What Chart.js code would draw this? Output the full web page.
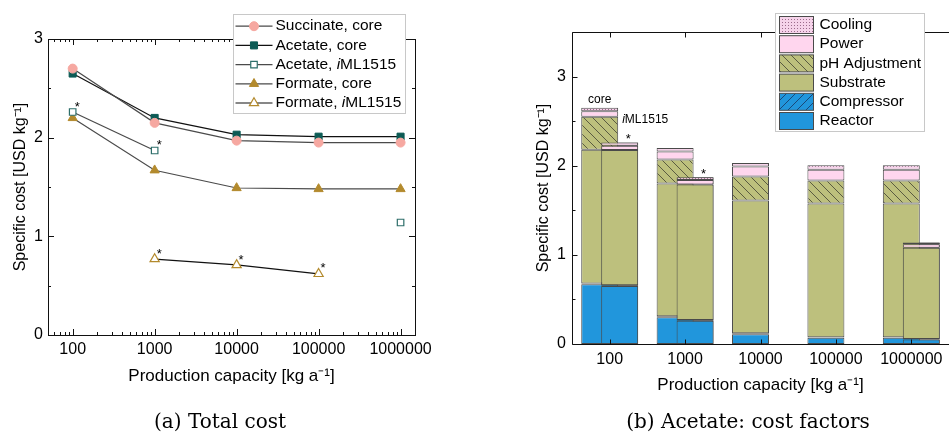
<!DOCTYPE html>
<html lang="en">
<head>
  <meta charset="UTF-8">
  <title>Specific cost</title>
  <script src="https://cdn.jsdelivr.net/npm/chart.js"></script>
  <style>
    body { margin: 0; background: #fff; width: 949px; height: 433px; overflow: hidden; position: relative; }
    #chartLeft { position: absolute; left: 0; top: 0; }
    #chartRight { position: absolute; left: 475px; top: 0; }
    .caption { position: absolute; top: 408px; font-family: "DejaVu Serif", serif; font-size: 20px; line-height: 26px; text-align: center; color: #000; }
  </style>
</head>

<body>
  <canvas id="chartLeft" width="475" height="433"></canvas>
  <canvas id="chartRight" width="474" height="433"></canvas>
  <div class="caption" style="left:0; width:440px;">(a) Total cost</div>
  <div class="caption" style="left:548px; width:400px;">(b) Acetate: cost factors</div>

  <script>
    // capacities [kg a-1]
    const capacities = [100, 1000, 10000, 100000, 1000000];
    const capacityLabels = ['100', '1000', '10000', '100000', '1000000'];

    // (a) total cost [USD kg-1]
    const succinateCore = [2.70, 2.15, 1.97, 1.95, 1.95];
    const acetateCore = [2.65, 2.20, 2.03, 2.01, 2.01];
    const acetateIml = [2.26, 1.87, null, null, 1.14];
    const formateCore = [2.20, 1.67, 1.49, 1.48, 1.48];
    const formateIml = [null, 0.77, 0.71, 0.62, null];
    const starAcetateIml = [true, true, false, false, false];
    const starFormateIml = [false, true, true, true, false];
    const yTicksLeft = [0, 1, 2, 3];

    // (b) acetate cost factors, core model
    const reactorCore = [0.67, 0.30, 0.11, 0.07, 0.07];
    const compressorCore = [0.01, 0.01, 0.01, 0.005, 0.005];
    const substrateCore = [1.50, 1.49, 1.49, 1.50, 1.50];
    const phCore = [0.37, 0.27, 0.27, 0.26, 0.26];
    const powerCore = [0.06, 0.09, 0.11, 0.12, 0.12];
    const coolingCore = [0.04, 0.04, 0.04, 0.05, 0.05];
    // iML1515 model
    const reactorIml = [0.65, 0.26, null, null, 0.05];
    const compressorIml = [0.01, 0.01, null, null, 0.005];
    const substrateIml = [1.515, 1.52, null, null, 1.025];
    const phIml = [0, 0, null, null, 0];
    const powerIml = [0.05, 0.05, null, null, 0.04];
    const coolingIml = [0.035, 0.03, null, null, 0.02];
    const starIml = [true, true, false, false, false];
    const yTicksRight = [0, 1, 2, 3];

    const SANS = '"Liberation Sans", Arial, sans-serif';

    function richText(ctx, text, x, y, size) {
      // the "i" of iML1515 is italic
      const normal = size + 'px ' + SANS;
      const k = text.indexOf('iML');
      const parts = k < 0 ? [[text, normal]] : [[text.slice(0, k), normal], ['i', 'italic ' + normal], [text.slice(k + 1), normal]];
      for (const [s, f] of parts) {
        ctx.font = f;
        ctx.fillText(s, x, y);
        x += ctx.measureText(s).width;
      }
    }

    function makePattern(bg, fg, kind) {
      const c = document.createElement('canvas');
      const s = kind === 'dots' ? 3 : 9;
      c.width = s; c.height = s;
      const g = c.getContext('2d');
      g.fillStyle = bg; g.fillRect(0, 0, s, s);
      g.fillStyle = fg; g.strokeStyle = fg; g.lineWidth = 0.9;
      if (kind === 'dots') {
        g.fillRect(1, 1, 1, 1);
      } else {
        g.beginPath();
        for (const k of [-s, 0, s]) {
          if (kind === 'back') { g.moveTo(k, 0); g.lineTo(k + s, s); }
          else { g.moveTo(k, s); g.lineTo(k + s, 0); }
        }
        g.stroke();
      }
      return g.createPattern(c, 'repeat');
    }

    // ---------- (a) line chart ----------
    const toXY = arr => capacities.map((c, i) => ({ x: c, y: arr[i] }));

    const leftDecor = {
      id: 'leftDecor',
      afterDraw(chart) {
        const { ctx, chartArea: a, scales: { x, y } } = chart;
        ctx.save();
        ctx.strokeStyle = '#111';
        ctx.lineWidth = 1;
        ctx.strokeRect(Math.round(a.left) + 0.5, Math.round(a.top) + 0.5, Math.round(a.right - a.left), Math.round(a.bottom - a.top));
        ctx.beginPath();
        for (let e = 1; e <= 6; e++) {
          for (let m = 1; m <= 9; m++) {
            const v = m * Math.pow(10, e);
            if (v < x.min || v > x.max) continue;
            const px = Math.round(x.getPixelForValue(v)) + 0.5;
            const len = m === 1 ? 6 : 3;
            ctx.moveTo(px, a.bottom); ctx.lineTo(px, a.bottom - len);
            ctx.moveTo(px, a.top); ctx.lineTo(px, a.top + len);
          }
        }
        for (let v = 0; v <= 3; v += 0.5) {
          const py = Math.round(y.getPixelForValue(v)) + 0.5;
          const len = v % 1 === 0 ? 6 : 3;
          ctx.moveTo(a.left, py); ctx.lineTo(a.left + len, py);
          ctx.moveTo(a.right, py); ctx.lineTo(a.right - len, py);
        }
        ctx.stroke();

        // asterisks
        ctx.fillStyle = '#000';
        ctx.font = '13px ' + SANS;
        ctx.textAlign = 'left';
        ctx.textBaseline = 'middle';
        [[2, starAcetateIml], [4, starFormateIml]].forEach(([di, flags]) => {
          const meta = chart.getDatasetMeta(di);
          flags.forEach((f, i) => {
            if (!f) return;
            const p = meta.data[i];
            ctx.fillText('*', p.x + 2, p.y - 5);
          });
        });

        // legend
        const bx = Math.round(a.left + 185) + 0.5, by = Math.round(a.top - 25) + 0.5, bw = 172, bh = 99, row = 19.2;
        ctx.fillStyle = '#fff';
        ctx.fillRect(bx, by, bw, bh);
        ctx.strokeStyle = '#c8c8c8';
        ctx.strokeRect(bx, by, bw, bh);
        chart.data.datasets.forEach((ds, i) => {
          const cy = by + 11.7 + i * row;
          ctx.strokeStyle = ds.borderColor;
          ctx.lineWidth = ds.borderWidth;
          ctx.beginPath(); ctx.moveTo(bx + 2, cy); ctx.lineTo(bx + 39, cy); ctx.stroke();
          ctx.fillStyle = ds.pointBackgroundColor;
          ctx.strokeStyle = ds.pointBorderColor;
          ctx.lineWidth = ds.pointBorderWidth;
          Chart.helpers.drawPoint(ctx, { pointStyle: ds.pointStyle, radius: ds.pointRadius, borderWidth: ds.pointBorderWidth, rotation: 0 }, bx + 20.5, cy);
          ctx.fillStyle = '#000';
          ctx.textBaseline = 'middle';
          richText(ctx, ds.label, bx + 42, cy, 15.5);
        });
        ctx.restore();
      }
    };

    new Chart(document.getElementById('chartLeft'), {
      type: 'line',
      data: {
        datasets: [
          { label: 'Succinate, core', data: toXY(succinateCore), borderColor: '#4a4a4a', borderWidth: 1.2,
            pointStyle: 'circle', pointRadius: 4.5, pointBackgroundColor: '#f6a8a1', pointBorderColor: '#f6a8a1', pointBorderWidth: 1 },
          { label: 'Acetate, core', data: toXY(acetateCore), borderColor: '#111', borderWidth: 1.2,
            pointStyle: 'rect', pointRadius: 5, pointBackgroundColor: '#0c5b55', pointBorderColor: '#0c5b55', pointBorderWidth: 1 },
          { label: 'Acetate, iML1515', data: toXY(acetateIml), borderColor: '#4a4a4a', borderWidth: 1.2,
            pointStyle: 'rect', pointRadius: 4.6, pointBackgroundColor: '#fff', pointBorderColor: '#2d6e6a', pointBorderWidth: 1.2 },
          { label: 'Formate, core', data: toXY(formateCore), borderColor: '#4a4a4a', borderWidth: 1.2,
            pointStyle: 'triangle', pointRadius: 5.3, pointBackgroundColor: '#b38a2d', pointBorderColor: '#b38a2d', pointBorderWidth: 1 },
          { label: 'Formate, iML1515', data: toXY(formateIml), borderColor: '#111', borderWidth: 1.2,
            pointStyle: 'triangle', pointRadius: 5.3, pointBackgroundColor: '#fff', pointBorderColor: '#b38a2d', pointBorderWidth: 1.2 }
        ]
      },
      options: {
        responsive: false,
        animation: false,
        spanGaps: false,
        layout: { padding: { top: 39, right: 60, left: 0, bottom: 0 } },
        elements: { line: { tension: 0, fill: false } },
        scales: {
          x: {
            type: 'logarithmic', min: 50, max: 1.5e6,
            grid: { display: false, drawTicks: false }, border: { display: false },
            afterBuildTicks: s => { s.ticks = capacities.map(v => ({ value: v })); },
            afterFit: s => { s.height = 98; },
            ticks: { autoSkip: false, maxRotation: 0, padding: 5, color: '#000', font: { size: 16, family: SANS },
              callback: v => String(v) },
            title: { display: true, text: 'Production capacity [kg a⁻¹]', color: '#000',
              font: { size: 17, family: SANS }, padding: { top: 0, bottom: 46 } }
          },
          y: {
            min: 0, max: 3,
            grid: { display: false, drawTicks: false }, border: { display: false },
            afterBuildTicks: s => { s.ticks = yTicksLeft.map(v => ({ value: v })); },
            afterFit: s => { s.width = 48; },
            ticks: { padding: 5, color: '#000', font: { size: 16, family: SANS } },
            title: { display: true, text: 'Specific cost [USD kg⁻¹]', color: '#000',
              font: { size: 16, family: SANS }, padding: { top: 11, bottom: 0 } }
          }
        },
        plugins: { legend: { display: false }, tooltip: { enabled: false } }
      },
      plugins: [leftDecor]
    });

    // ---------- (b) stacked bars ----------
    const factorNames = ['Reactor', 'Compressor', 'Substrate', 'pH Adjustment', 'Power', 'Cooling'];
    const coreValues = [reactorCore, compressorCore, substrateCore, phCore, powerCore, coolingCore];
    const imlValues = [reactorIml, compressorIml, substrateIml, phIml, powerIml, coolingIml];
    const factorFills = [
      '#2196dc',
      makePattern('#2196dc', '#1b3f6b', 'fwd'),
      '#bdc07d',
      makePattern('#bdc07d', '#4f4f3a', 'back'),
      '#ffd6ee',
      makePattern('#f6d3ea', '#9c6b8c', 'dots')
    ];

    const barDatasets = [];
    ['core', 'iml'].forEach(stack => {
      const vals = stack === 'core' ? coreValues : imlValues;
      factorNames.forEach((name, i) => {
        barDatasets.push({
          label: name, stack: stack, data: vals[i],
          backgroundColor: factorFills[i], borderColor: '#4a4a4a', borderWidth: 1, borderSkipped: false,
          categoryPercentage: 0.53, barPercentage: 1.85
        });
      });
    });

    const rightDecor = {
      id: 'rightDecor',
      afterDatasetsDraw(chart) {
        // iML1515 bars sit in front of the core bars
        chart.data.datasets.forEach((ds, i) => {
          if (ds.stack === 'iml') chart.getDatasetMeta(i).controller.draw();
        });
      },
      afterDraw(chart) {
        const { ctx, chartArea: a, scales: { x, y } } = chart;
        ctx.save();
        ctx.strokeStyle = '#111';
        ctx.lineWidth = 1;
        const L = Math.round(a.left) + 0.5, T = Math.round(a.top) + 0.5, B = Math.round(a.bottom) + 0.5;
        ctx.beginPath();
        ctx.moveTo(a.right, T); ctx.lineTo(L, T); ctx.lineTo(L, B); ctx.lineTo(a.right, B);
        capacityLabels.forEach((c, i) => {
          const px = Math.round(x.getPixelForValue(i)) + 0.5;
          ctx.moveTo(px, B); ctx.lineTo(px, B - 5);
          ctx.moveTo(px, T); ctx.lineTo(px, T + 5);
        });
        for (let v = 0; v <= 3.5; v += 0.5) {
          const py = Math.round(y.getPixelForValue(v)) + 0.5;
          ctx.moveTo(L, py); ctx.lineTo(L + (v % 1 === 0 ? 5 : 3), py);
        }
        ctx.stroke();

        // labels on bars
        ctx.fillStyle = '#000';
        ctx.textBaseline = 'middle';
        const coreTop = chart.getDatasetMeta(5).data[0];
        ctx.textAlign = 'center';
        ctx.font = '12px ' + SANS;
        ctx.fillText('core', coreTop.x, coreTop.y - 8);
        ctx.textAlign = 'left';
        richText(ctx, 'iML1515', coreTop.x + coreTop.width / 2 + 4, coreTop.y + 12, 12);
        const imlMeta = chart.getDatasetMeta(11);
        ctx.font = '13px ' + SANS;
        starIml.forEach((f, i) => {
          if (!f) return;
          const el = imlMeta.data[i];
          ctx.fillText('*', el.x + 6, el.y - 3);
        });

        // legend
        const bx = Math.round(a.left + 203) + 0.5, by = Math.round(a.top - 19) + 0.5, bw = 149, bh = 118, row = 19.2;
        ctx.fillStyle = '#fff';
        ctx.fillRect(bx, by, bw, bh);
        ctx.strokeStyle = '#c8c8c8';
        ctx.strokeRect(bx, by, bw, bh);
        for (let r = 0; r < factorNames.length; r++) {
          const fi = factorNames.length - 1 - r;
          const cy = by + 11.5 + r * row;
          ctx.fillStyle = factorFills[fi];
          ctx.fillRect(bx + 4, cy - 8.5, 34, 17);
          ctx.strokeStyle = '#4a4a4a';
          ctx.lineWidth = 1;
          ctx.strokeRect(bx + 4, cy - 8.5, 34, 17);
          ctx.fillStyle = '#000';
          richText(ctx, factorNames[fi], bx + 44, cy, 15.5);
        }
        ctx.restore();
      }
    };

    new Chart(document.getElementById('chartRight'), {
      type: 'bar',
      data: { labels: capacityLabels, datasets: barDatasets },
      options: {
        responsive: false,
        animation: false,
        layout: { padding: { top: 32, right: 0, left: 0, bottom: 0 } },
        scales: {
          x: {
            stacked: true,
            grid: { display: false, drawTicks: false }, border: { display: false },
            afterFit: s => { s.height = 89; },
            ticks: { autoSkip: false, maxRotation: 0, padding: 6, color: '#000', font: { size: 16, family: SANS } },
            title: { display: true, text: 'Production capacity [kg a⁻¹]', color: '#000',
              font: { size: 17, family: SANS }, padding: { top: 0, bottom: 37 } }
          },
          y: {
            stacked: true, min: 0, max: 3.5,
            grid: { display: false, drawTicks: false }, border: { display: false },
            afterBuildTicks: s => { s.ticks = yTicksRight.map(v => ({ value: v })); },
            afterFit: s => { s.width = 97; },
            ticks: { padding: 6, color: '#000', font: { size: 16, family: SANS } },
            title: { display: true, text: 'Specific cost [USD kg⁻¹]', color: '#000',
              font: { size: 16, family: SANS }, padding: { top: 59, bottom: 0 } }
          }
        },
        plugins: { legend: { display: false }, tooltip: { enabled: false } }
      },
      plugins: [rightDecor]
    });
  </script>
</body>

</html>
